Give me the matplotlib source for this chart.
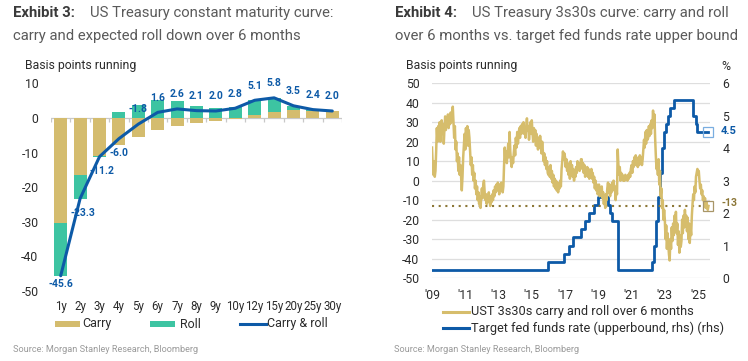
import numpy as np
import matplotlib
matplotlib.use("Agg")
import matplotlib.pyplot as plt
from matplotlib.patches import Rectangle
from matplotlib.lines import Line2D

plt.rcParams['font.family'] = ['Roboto', 'DejaVu Sans']

# ---------------- data: Exhibit 3 ----------------
tenors = ["1y", "2y", "3y", "4y", "5y", "6y", "7y", "8y", "9y", "10y", "12y", "15y", "20y", "25y", "30y"]
carry = [-30.4, -16.5, -10.9, -7.7, -5.5, -3.5, -2.2, -1.4, -0.8, -0.3, 0.8, 1.8, 2.4, 2.1, 2.0]
roll = [-15.2, -6.8, -0.3, 1.7, 3.7, 5.1, 4.8, 3.5, 2.8, 3.1, 4.3, 4.0, 1.1, 0.3, 0.0]
carry_roll = [-45.6, -23.3, -11.2, -6.0, -1.8, 1.6, 2.6, 2.1, 2.0, 2.8, 5.1, 5.8, 3.5, 2.4, 2.0]
left_yticks = [10, 0, -10, -20, -30, -40, -50]

# ---------------- data: Exhibit 4 ----------------
ust_2009 = [17, 8, 3, 10, 2, 5, 15, 27, 20, 28, 22, 30, 20, 26, 31, 24, 29, 19, 27, 33, 26, 32, 28, 34]
ust_2010 = [27, 33, 29, 35, 30, 33, 38, 30, 22, 28, 16, 20, 10, 14, 5, 12, 3, 8, 2, -5, 2, 12, 18, 24]
ust_2011 = [16, 27, 20, 28, 18, 26, 22, 15, 8, 12, 3, 8, 0, 4, -4, 0, -7, -3, -10, -6, -12, -8, -14, -9]
ust_2012 = [-4, -9, -2, 0, -6, -10, -7, -12, -8, -11, -6, -10, -13, -8, -11, -7, -10, -5, -8, -3, -6, -2, -5, -1]
ust_2013 = [-3, -7, -2, -5, -1, -4, -6, -3, 8, 17, 10, 15, 9, 14, 19, 12, 25, 15, 10, 7, 12, 9, 14, 18]
ust_2014 = [13, 22, 17, 25, 19, 23, 27, 22, 28, 24, 29, 25, 30, 24, 27, 22, 28, 32, 26, 28, 21, 26, 30, 24]
ust_2015 = [31, 25, 20, 27, 22, 26, 18, 24, 20, 16, 22, 17, 23, 19, 14, 20, 15, 10, 14, 8, 12, 6, 10, 4]
ust_2016 = [3, 7, 2, 8, 1, 5, -1, 3, -3, 1, -4, 0, -5, -1, -6, -2, -4, 0, -3, 6, 10, 15, 11, 14]
ust_2017 = [12, 7, 11, 5, 9, 3, 7, 1, 10, 4, 8, 2, 6, 0, 5, 2, 7, 4, 10, 6, 9, 5, 8, 11]
ust_2018 = [11, 6, 9, 4, 8, 2, 6, 3, 7, 2, 6, 1, 5, 2, 6, 1, 4, -1, 2, -4, 0, -5, -2, -7]
ust_2019 = [-6, -2, -8, -4, -7, -3, -9, -6, -12, -8, -14, -7, -10, -4, -1, -6, -2, -8, -3, -6, -1, -5, 0, -4]
ust_2020 = [-3, -10, -4, -7, 16, 8, 3, 7, 0, 4, 1, 3, 0, 2, 0, 3, 1, 2, 0, 3, 1, 4, 2, 6]
ust_2021 = [8, 4, 10, 7, 12, 8, 13, 9, 11, 7, 12, 8, 13, 9, 12, 8, 11, 16, 21, 17, 25, 19, 26, 21]
ust_2022 = [22, 28, 23, 29, 24, 31, 27, 36, 28, 34, 22, 13, 6, 9, 3, 11, -2, 5, -8, -4, -14, -10, -20, -15]
ust_2023 = [-20, -30, -23, -35, -27, -33, -38, -41, -30, -35, -24, -31, -22, -28, -18, -25, -16, -27, -22, -33, -26, -37, -28, -34]
ust_2024 = [-31, -20, -27, -18, -24, -15, -22, -18, -26, -19, -30, -22, -32, -24, -28, -18, -12, -7, -10, -3, -6, 2, 4, 6]
ust_2025 = [3, 5, 0, -4, -2, -7, -5, -10, -8, -12, -9, -14, -11, -13, -15, -13]
ust_start_year = 2009.0
ust_obs_per_year = 24

ff_dates = [2009.0, 2015.96, 2016.96, 2017.21, 2017.46, 2017.96, 2018.21, 2018.46, 2018.73, 2018.96,
            2019.58, 2019.72, 2019.83, 2020.17, 2020.21, 2022.21, 2022.34, 2022.46, 2022.57, 2022.72,
            2022.84, 2022.96, 2023.09, 2023.22, 2023.34, 2023.57, 2024.72, 2024.85, 2024.96, 2025.625]
ff_rates = [0.25, 0.5, 0.75, 1.0, 1.25, 1.5, 1.75, 2.0, 2.25, 2.5,
            2.25, 2.0, 1.75, 1.25, 0.25, 0.5, 1.0, 1.75, 2.5, 3.25,
            4.0, 4.5, 4.75, 5.0, 5.25, 5.5, 5.0, 4.75, 4.5, 4.5]
ust_avg = -13
right_xticks = [2009, 2011, 2013, 2015, 2017, 2019, 2021, 2023, 2025]
right_xlabels = ["'09", "'11", "'13", "'15", "'17", "'19", "'21", "'23", "'25"]
right_yticks = list(range(-50, 51, 10))
rhs_ticks = [0, 1, 2, 3, 4, 5, 6]

# ---------------- styling ----------------
W, H = 748, 361
C_CARRY = "#D4BC6E"
C_ROLL = "#3DC4A2"
C_BLUE = "#0D5AA7"
C_GOLD = "#D6BD6C"
C_DOT = "#8C7738"
C_TXT = "#2b2b2b"
C_TITLE = "#5a5a5a"
C_SRC = "#9a9a9a"
FS_TITLE = 10.7
FS_TICK = 8.8

fig = plt.figure(figsize=(W / 100, H / 100), dpi=100)
fig.patch.set_facecolor("white")


def fx(px):
    return px / W


def fy(py):
    return 1 - py / H


# ---------------- titles ----------------
for x0, ex, rest, line2 in [
    (13, "Exhibit 3:", "US Treasury constant maturity curve:", "carry and expected roll down over 6 months"),
    (395, "Exhibit 4:", "US Treasury 3s30s curve: carry and roll", "over 6 months vs. target fed funds rate upper bound"),
]:
    fig.text(fx(x0), fy(13), ex, fontsize=FS_TITLE, fontweight="bold", color="#3a3a3a", va="center", ha="left")
    fig.text(fx(x0 + 77), fy(13), rest, fontsize=FS_TITLE, color=C_TITLE, va="center", ha="left")
    fig.text(fx(x0), fy(36), line2, fontsize=FS_TITLE, color=C_TITLE, va="center", ha="left")

fig.text(fx(13), fy(349), "Source: Morgan Stanley Research, Bloomberg", fontsize=6.6, color=C_SRC, va="center")
fig.text(fx(394), fy(349), "Source: Morgan Stanley Research, Bloomberg", fontsize=6.6, color=C_SRC, va="center")

# ---------------- Exhibit 3 ----------------
ax = fig.add_axes([fx(51), fy(291), (342 - 51) / W, (291 - 83.3) / H])
x = np.arange(len(tenors))
carry_a = np.array(carry)
roll_a = np.array(roll)
roll_bottom = np.where(np.sign(roll_a) == np.sign(carry_a), carry_a, 0.0)
ax.bar(x, carry_a, width=0.68, color=C_CARRY, zorder=2)
ax.bar(x, roll_a, bottom=roll_bottom, width=0.68, color=C_ROLL, zorder=2)
ax.plot(x, carry_roll, color=C_BLUE, lw=2.2, zorder=4, solid_capstyle="round")
ax.axhline(0, color="#c8c8c8", lw=0.9, zorder=1)
ax.vlines(np.arange(len(tenors) + 1) - 0.5, -1.2, 0, color="#c8c8c8", lw=0.9, zorder=1)

for i, v in enumerate(carry_roll):
    if i < 4:
        dx = 2 if i in (1, 2) else 0
        dy = -2 if i == 0 else -6.5
        ax.annotate(f"{v:.1f}", (i, v), xytext=(dx, dy), textcoords="offset points",
                    ha="center", va="top", fontsize=7.5, fontweight="bold", color=C_BLUE, zorder=3)
    else:
        ax.annotate(f"{v:.1f}", (i, v), xytext=(0, 7), textcoords="offset points",
                    ha="center", va="bottom", fontsize=7.5, fontweight="bold", color=C_BLUE, zorder=3)

ax.set_xlim(-0.5, len(tenors) - 0.5)
ax.set_ylim(-50, 10)
ax.set_yticks(left_yticks)
ax.set_yticklabels([str(t) for t in left_yticks])
ax.set_xticks(x)
ax.set_xticklabels(tenors)
ax.tick_params(axis="both", length=0, labelsize=FS_TICK, colors=C_TXT)
ax.tick_params(axis="x", labelsize=8.3, pad=6.5)
ax.tick_params(axis="y", pad=9)
for s in ax.spines.values():
    s.set_visible(False)
ax.set_facecolor("none")
fig.text(fx(25), fy(66), "Basis points running", fontsize=FS_TICK, color=C_TXT, va="center")

# legend (left)
fig.patches.append(Rectangle((fx(55), fy(327)), 25 / W, 6.5 / H, transform=fig.transFigure,
                             facecolor=C_CARRY, edgecolor="none"))
fig.text(fx(82), fy(324), "Carry", fontsize=9, color=C_TXT, va="center")
fig.patches.append(Rectangle((fx(150), fy(327)), 25 / W, 6.5 / H, transform=fig.transFigure,
                             facecolor=C_ROLL, edgecolor="none"))
fig.text(fx(180), fy(324), "Roll", fontsize=9, color=C_TXT, va="center")
fig.lines.append(Line2D([fx(240), fx(266)], [fy(324), fy(324)], transform=fig.transFigure,
                        color=C_BLUE, lw=2.2))
fig.text(fx(267), fy(324), "Carry & roll", fontsize=9, color=C_TXT, va="center")

# ---------------- Exhibit 4 ----------------
ust_bp = (ust_2009 + ust_2010 + ust_2011 + ust_2012 + ust_2013 + ust_2014 + ust_2015 + ust_2016 +
          ust_2017 + ust_2018 + ust_2019 + ust_2020 + ust_2021 + ust_2022 + ust_2023 + ust_2024 + ust_2025)
ust_dates = ust_start_year + np.arange(len(ust_bp)) / ust_obs_per_year

axr = fig.add_axes([fx(432), fy(278), (710 - 432) / W, (278 - 83.3) / H])
ax2 = axr.twinx()
axr.set_zorder(ax2.get_zorder() + 1)
axr.patch.set_visible(False)

for t in right_yticks:
    ax2.axhline((t + 50) / 100 * 6, color="#dedede", lw=0.9, zorder=0)

axr.plot(ust_dates, ust_bp, color=C_GOLD, lw=1.8, zorder=3)
axr.axhline(ust_avg, color=C_DOT, lw=1.5, linestyle=(0, (1, 2.2)), zorder=2)
axr.plot([ust_dates[-1]], [ust_bp[-1]], marker="s", markersize=6.5, markerfacecolor="none",
         markeredgecolor="#a89668", markeredgewidth=0.9, zorder=4, clip_on=False)

ax2.step(ff_dates, ff_rates, where="post", color=C_BLUE, lw=2.0, zorder=3)
ax2.plot([ff_dates[-1]], [ff_rates[-1]], marker="s", markersize=6.5, markerfacecolor="none",
         markeredgecolor="#7aaee0", markeredgewidth=0.9, zorder=4, clip_on=False)

xl = (2009.0, 2009.0 + (710 - 432) / 16.63)
axr.set_xlim(*xl)
axr.set_ylim(-50, 50)
ax2.set_ylim(0, 6)
axr.set_yticks(right_yticks)
axr.set_yticklabels([str(t) for t in right_yticks])
ax2.set_yticks(rhs_ticks)
ax2.set_yticklabels([str(t) for t in rhs_ticks])
axr.set_xticks(right_xticks)
axr.set_xticklabels(right_xlabels)
for a in (axr, ax2):
    a.tick_params(axis="both", length=0, labelsize=FS_TICK, colors=C_TXT)
    for s in a.spines.values():
        s.set_visible(False)
axr.tick_params(axis="y", pad=9)
ax2.tick_params(axis="y", pad=9)
axr.tick_params(axis="x", pad=8)

fig.text(fx(406), fy(66), "Basis points running", fontsize=FS_TICK, color=C_TXT, va="center")
fig.text(fx(721), fy(66), "%", fontsize=FS_TICK, color=C_TXT, va="center")
fig.text(fx(721), fy(131), f"{ff_rates[-1]:.1f}", fontsize=8, fontweight="bold", color=C_BLUE, va="center")
fig.text(fx(721), fy(203), f"{ust_avg}", fontsize=7.5, fontweight="bold", color=C_DOT, va="center")

# legend (right)
fig.lines.append(Line2D([fx(443), fx(469)], [fy(312), fy(312)], transform=fig.transFigure,
                        color=C_GOLD, lw=2.2))
fig.text(fx(471), fy(312), "UST 3s30s carry and roll over 6 months", fontsize=9.2, color=C_TXT, va="center")
fig.lines.append(Line2D([fx(443), fx(469)], [fy(328), fy(328)], transform=fig.transFigure,
                        color=C_BLUE, lw=2.2))
fig.text(fx(471), fy(328), "Target fed funds rate (upperbound, rhs) (rhs)", fontsize=9.2, color=C_TXT, va="center")

fig.savefig("out.png", dpi=100, facecolor="white")
